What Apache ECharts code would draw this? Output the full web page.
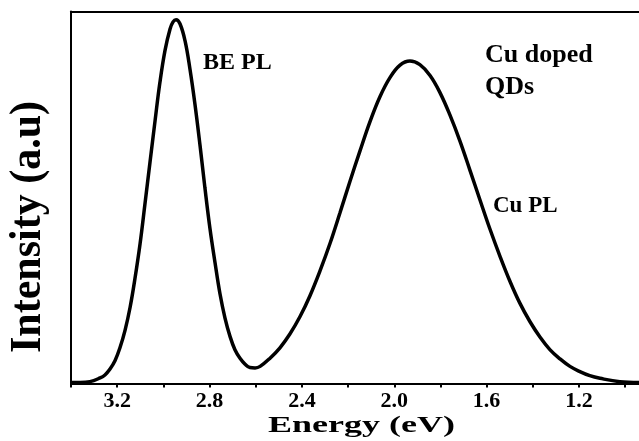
<!DOCTYPE html>
<html>
<head>
<meta charset="utf-8">
<script src="https://cdn.jsdelivr.net/npm/echarts@6/dist/echarts.min.js"></script>
<style>
html,body{margin:0;padding:0;background:#fff;}
#c{width:639px;height:441px;}
</style>
</head>
<body>
<div id="c"></div>
<script>
// Data
var energy = [3.400,3.361,3.318,3.274,3.253,3.231,3.209,3.188,3.166,3.144,3.123,3.101,3.080,3.058,3.036,3.015,2.993,2.971,2.958,2.945,2.928,2.906,2.885,2.863,2.841,2.820,2.798,2.776,2.755,2.733,2.711,2.690,2.668,2.646,2.625,2.603,2.581,2.538,2.495,2.452,2.408,2.365,2.322,2.278,2.235,2.192,2.148,2.105,2.062,2.018,1.975,1.932,1.889,1.845,1.802,1.759,1.715,1.672,1.629,1.586,1.542,1.499,1.456,1.412,1.369,1.326,1.282,1.239,1.196,1.153,1.109,1.023,0.940];
var intensity = [0.003,0.003,0.005,0.015,0.023,0.039,0.062,0.096,0.143,0.205,0.282,0.375,0.481,0.594,0.706,0.809,0.895,0.953,0.972,0.978,0.967,0.921,0.846,0.750,0.639,0.526,0.416,0.324,0.242,0.176,0.126,0.091,0.068,0.052,0.043,0.042,0.046,0.068,0.096,0.133,0.180,0.236,0.302,0.377,0.459,0.543,0.626,0.704,0.771,0.823,0.856,0.867,0.857,0.828,0.782,0.722,0.651,0.573,0.494,0.416,0.342,0.275,0.216,0.166,0.125,0.091,0.066,0.046,0.032,0.021,0.014,0.005,0.003];
var tickValues = [3.4,3.2,3.0,2.8,2.6,2.4,2.2,2.0,1.8,1.6,1.4,1.2,1.0];
var labelValues = [3.2,2.8,2.4,2.0,1.6,1.2];
var xTitle = 'Energy (eV)';
var yTitle = 'Intensity (a.u)';
var annotations = ['BE PL', 'Cu doped', 'QDs', 'Cu PL'];

var serif = '"Liberation Serif","Times New Roman",serif';
var chart = echarts.init(document.getElementById('c'), null, {renderer:'canvas'});
var points = energy.map(function(e,i){ return [e, intensity[i]]; });

function txt(text, x, y, size, opts){
  opts = opts || {};
  return {
    type:'text', x:x, y:y,
    rotation: opts.rotation || 0,
    scaleX: opts.scaleX || 1, scaleY: opts.scaleY || 1,
    style:{ text:text, x:0, y:0, fill:'#000', font:'bold '+size+'px '+serif,
      align: opts.align || 'left', verticalAlign:'middle' },
    z:10
  };
}

chart.setOption({
  animation:false,
  backgroundColor:'#fff',
  grid:{left:71, right:0, top:11.5, bottom:57.5},
  xAxis:[{
    type:'value', inverse:true, min:0.94, max:3.4,
    axisLine:{show:true, onZero:false, lineStyle:{color:'#000', width:2}},
    axisTick:{show:true, inside:false, length:4, customValues:tickValues, lineStyle:{color:'#000', width:2}},
    axisLabel:{show:true, customValues:labelValues, margin:7, color:'#000',
      fontFamily:serif, fontWeight:'bold', fontSize:22,
      formatter:function(v){ return Number(v).toFixed(1); }},
    splitLine:{show:false}
  },{
    type:'value', inverse:true, min:0.94, max:3.4, position:'top',
    axisLine:{show:true, onZero:false, lineStyle:{color:'#000', width:2}},
    axisTick:{show:false}, axisLabel:{show:false}, splitLine:{show:false}
  }],
  yAxis:{
    type:'value', min:0, max:1,
    axisLine:{show:true, onZero:false, lineStyle:{color:'#000', width:2}},
    axisTick:{show:false}, axisLabel:{show:false}, splitLine:{show:false}
  },
  series:[{
    type:'line', xAxisIndex:0, data:points, smooth:0.4, showSymbol:false,
    lineStyle:{color:'#000', width:3.5}, z:3
  }],
  graphic:[
    txt(annotations[0], 203, 63, 24),
    txt(annotations[1], 485, 55, 26),
    txt(annotations[2], 485, 87, 26),
    txt(annotations[3], 493, 206, 23),
    txt(xTitle, 361.5, 426, 24, {align:'center', scaleX:1.5}),
    txt(yTitle, 28.3, 227, 42, {align:'center', rotation:Math.PI/2, scaleY:1.07})
  ]
});
</script>
</body>
</html>
